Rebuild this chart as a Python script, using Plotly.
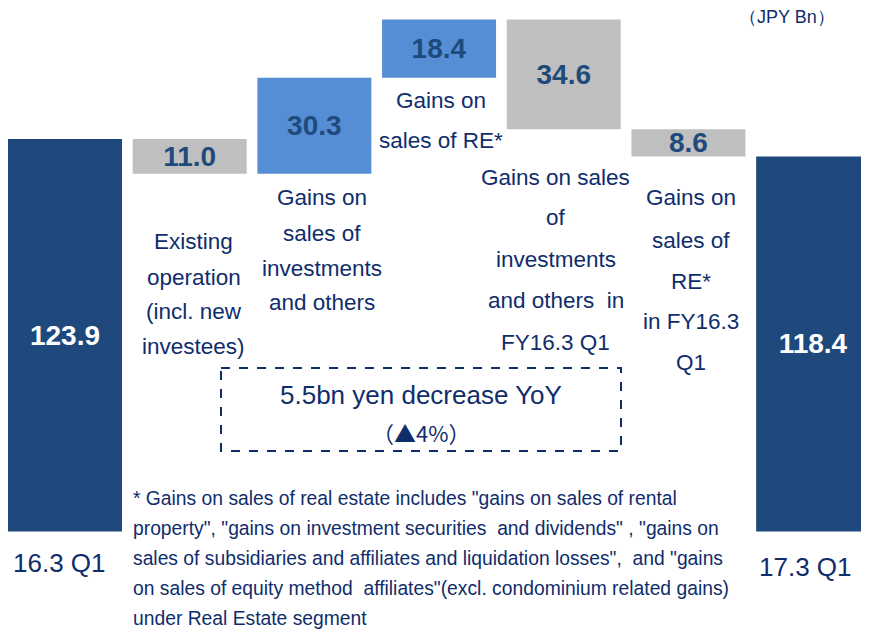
import plotly.graph_objects as go

# The page body has an 8px margin, so the figure is 8px smaller than the window
# and all reference pixel positions are shifted by 8px.
OFF = 8
W, H = 869 - OFF, 631 - OFF

# ---------------- data ----------------
categories = ["16.3 Q1", "Existing operation", "Gains on sales of investments and others",
              "Gains on sales of RE*", "Gains on sales of investments and others in FY16.3 Q1",
              "Gains on sales of RE* in FY16.3 Q1", "17.3 Q1"]
values = [123.9, -11.0, 30.3, 18.4, -34.6, -8.6, 118.4]
measures = ["absolute", "relative", "relative", "relative", "relative", "relative", "total"]
value_labels = ["123.9", "11.0", "30.3", "18.4", "34.6", "8.6", "118.4"]

period_labels = ["16.3 Q1", "17.3 Q1"]

label_lines = [
    [],
    ["Existing", "operation", "(incl. new", "investees)"],
    ["Gains on", "sales of", "investments", "and others"],
    ["Gains on", "sales of RE*"],
    ["Gains on sales", "of", "investments", "and others  in", "FY16.3 Q1"],
    ["Gains on", "sales of", "RE*", "in FY16.3", "Q1"],
    [],
]

summary_lines = ["5.5bn yen decrease YoY", "（▲4%）"]
unit_label = "（JPY Bn）"
footnote_lines = [
    "* Gains on sales of real estate includes \"gains on sales of rental",
    "property\", \"gains on investment securities  and dividends\" , \"gains on",
    "sales of subsidiaries and affiliates and liquidation losses\",  and \"gains",
    "on sales of equity method  affiliates\"(excl. condominium related gains)",
    "under Real Estate segment",
]

# ---------------- layout helpers ----------------
NAVY = "#0F2D6B"
VAL = "#1F4A7C"
FONT = "Liberation Sans, Arial, sans-serif"

def fx(px):
    return (px - OFF) / W

def fy(py):
    return 1 - (py - OFF) / H

label_line_y = [[], [241, 277, 312, 347], [198, 233, 268, 303], [100, 140],
                [178, 218, 259, 301, 342], [198, 240, 281, 321, 362], []]
label_xshift = [0, 4, 8, 2, -8, 3, 0]

fig = go.Figure()
fig.add_trace(go.Waterfall(
    x=list(range(len(values))),
    y=values,
    measure=measures,
    text=value_labels,
    textposition="inside",
    insidetextanchor="middle",
    constraintext="none",
    textangle=0,
    textfont=dict(family=FONT, size=28,
                  color=["white", VAL, VAL, VAL, VAL, VAL, "white"],
                  weight="bold"),
    width=0.914,
    increasing=dict(marker=dict(color="#558ED5")),
    decreasing=dict(marker=dict(color="#BFBFBF")),
    totals=dict(marker=dict(color="#1F497D")),
    connector=dict(visible=False),
    hoverinfo="skip",
    showlegend=False,
))

annotations = []
for i, lines in enumerate(label_lines):
    for line, yy in zip(lines, label_line_y[i]):
        annotations.append(dict(
            x=i, xref="x", y=fy(yy), yref="paper", text=line, showarrow=False,
            xanchor="center", yanchor="middle", xshift=label_xshift[i],
            font=dict(family=FONT, size=22.5, color=NAVY)))

# period labels under the total bars
for i, (lab, yy) in zip([0, 6], zip(period_labels, [563, 567])):
    annotations.append(dict(
        x=i, xref="x", y=fy(yy), yref="paper", text=lab, showarrow=False,
        xanchor="center", yanchor="middle", xshift=(-5 if i == 0 else -8),
        font=dict(family=FONT, size=26, color=NAVY)))

# summary box text
annotations.append(dict(
    x=fx(421), xref="paper", y=fy(395), yref="paper", text=summary_lines[0],
    showarrow=False, xanchor="center", yanchor="middle",
    font=dict(family=FONT, size=26, color=NAVY)))
annotations.append(dict(
    x=fx(421), xref="paper", y=fy(432), yref="paper", text=summary_lines[1],
    showarrow=False, xanchor="center", yanchor="middle",
    font=dict(family="Noto Sans CJK JP, Liberation Sans, sans-serif", size=22, color=NAVY)))

# unit label
annotations.append(dict(
    x=fx(787), xref="paper", y=fy(17), yref="paper", text=unit_label, showarrow=False,
    xanchor="center", yanchor="middle", font=dict(family=FONT, size=18, color=NAVY)))

# footnote
for k, line in enumerate(footnote_lines):
    annotations.append(dict(
        x=fx(131), xref="paper", y=fy(498 + 30.2 * k), yref="paper", text=line,
        showarrow=False, xanchor="left", yanchor="middle",
        font=dict(family=FONT, size=19.3, color=NAVY)))

fig.update_layout(
    width=W, height=H,
    margin=dict(l=0, r=0, t=0, b=0),
    paper_bgcolor="white", plot_bgcolor="white",
    xaxis=dict(range=[-0.457, 6.448], visible=False, fixedrange=True),
    yaxis=dict(range=[-31.4, 165.25], visible=False, fixedrange=True),
    annotations=annotations,
    shapes=[dict(type="rect", xref="paper", yref="paper",
                 x0=fx(221), x1=fx(621), y0=fy(368), y1=fy(451),
                 line=dict(color=NAVY, width=2, dash="dash"))],
)

fig.write_html("out.html")
